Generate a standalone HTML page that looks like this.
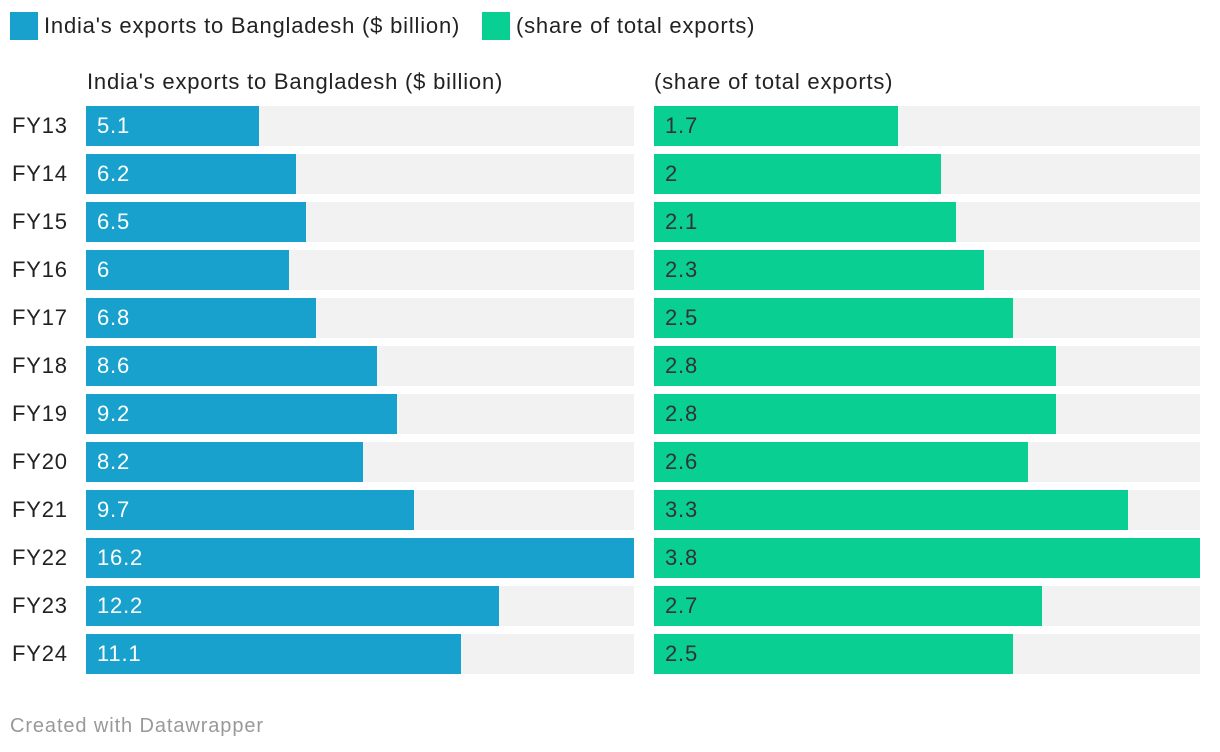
<!DOCTYPE html>
<html><head><meta charset="utf-8"><style>
body{margin:0;width:1220px;height:752px;background:#fff;font-family:"Liberation Sans",Roboto,sans-serif;position:relative;overflow:hidden;color:#333}
.a{position:absolute;white-space:nowrap}
.t{letter-spacing:0.8px}
</style></head><body>
<div class="a" style="left:0;top:0;width:1220px;height:50px">
 <div class="a" style="left:10px;top:12px;width:28px;height:28px;background:#18a1cd"></div>
 <div class="a t" style="left:44px;top:13px;font-size:22px;color:#222">India's exports to Bangladesh ($ billion)</div>
 <div class="a" style="left:482px;top:12px;width:28px;height:28px;background:#09cf92"></div>
 <div class="a t" style="left:516px;top:13px;font-size:22px;color:#222">(share of total exports)</div>
</div>
<div class="a t" style="left:87px;top:69px;font-size:22px;color:#222">India's exports to Bangladesh ($ billion)</div>
<div class="a t" style="left:654px;top:69px;font-size:22px;color:#222">(share of total exports)</div>
<div id="chart"></div>
<div class="a" style="left:10px;top:715px;font-size:20px;letter-spacing:0.9px;color:#999">Created with Datawrapper</div>
<script>
const categories=["FY13","FY14","FY15","FY16","FY17","FY18","FY19","FY20","FY21","FY22","FY23","FY24"];
const exportsVals=[5.1,6.2,6.5,6,6.8,8.6,9.2,8.2,9.7,16.2,12.2,11.1];
const shareVals=[1.7,2,2.1,2.3,2.5,2.8,2.8,2.6,3.3,3.8,2.7,2.5];
const c=document.getElementById('chart');
const top0=106,pitch=48,bh=40;
function y(i){return top0+i*pitch;}
const panels=[{x:86,w:548,vals:exportsVals,max:Math.max(...exportsVals),col:'#18a1cd',tc:'#fff',n:'exports'},
 {x:654,w:546,vals:shareVals,max:Math.max(...shareVals),col:'#09cf92',tc:'#333',n:'share'}];
categories.forEach((cat,i)=>{
 const l=document.createElement('div');l.className='a t';
 
 
 l.style.cssText=`left:12px;top:${y(i)+7}px;font-size:22px;color:#222`;l.textContent=cat;c.appendChild(l);
 panels.forEach(p=>{
  const bg=document.createElement('div');bg.className='a';
  
  
  bg.style.cssText=`left:${p.x}px;top:${y(i)}px;width:${p.w}px;height:${bh}px;background:#f2f2f2`;c.appendChild(bg);
  const b=document.createElement('div');b.className='a';
  
  
  b.style.cssText=`left:${p.x}px;top:${y(i)}px;width:${p.vals[i]/p.max*p.w}px;height:${bh}px;background:${p.col}`;c.appendChild(b);
  const t=document.createElement('div');t.className='a t';
  
  
  t.style.cssText=`left:${p.x+11}px;top:${y(i)+7}px;font-size:22px;color:${p.tc}`;t.textContent=p.vals[i];c.appendChild(t);
 });
});
</script>
</body></html>
